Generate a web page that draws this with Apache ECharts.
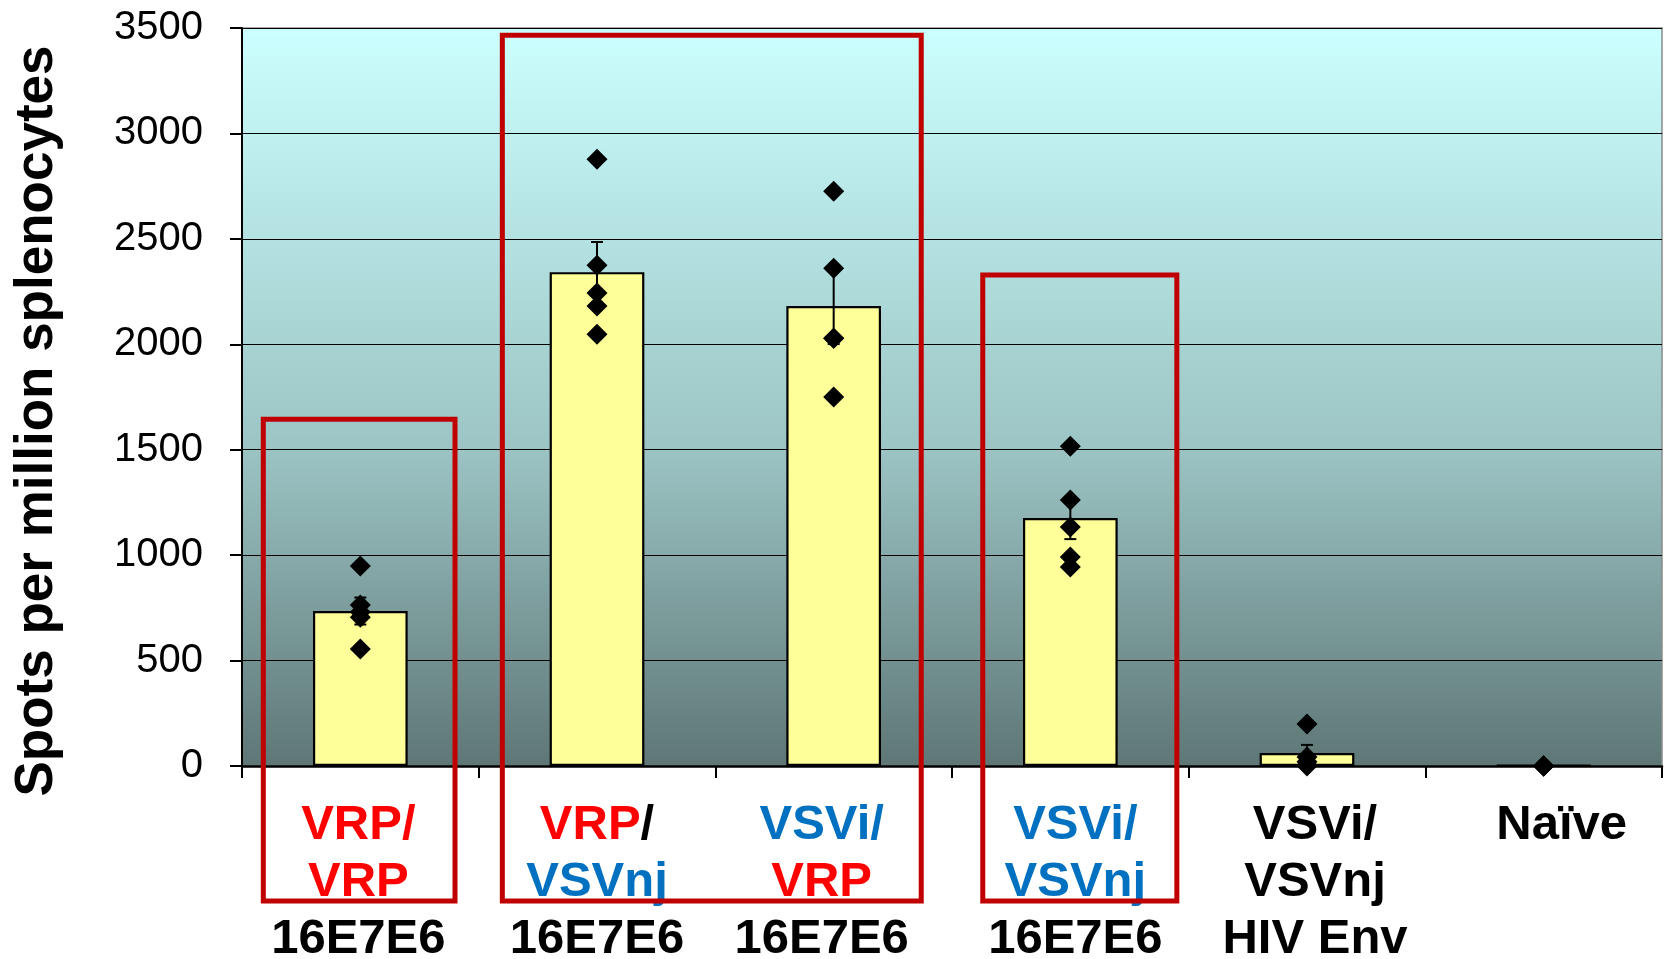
<!DOCTYPE html>
<html>
<head>
<meta charset="utf-8">
<script src="https://cdn.jsdelivr.net/npm/echarts@6/dist/echarts.min.js"></script>
<style>
html,body{margin:0;padding:0;background:#fff;}
#chart{width:1666px;height:959px;}
</style>
</head>
<body>
<div id="chart"></div>
<script>
// ---- data ----
const categories = ['VRP/VRP 16E7E6', 'VRP/VSVnj 16E7E6', 'VSVi/VRP 16E7E6', 'VSVi/VSVnj 16E7E6', 'VSVi/VSVnj HIV Env', 'Naïve'];
const tickLabelLines = [
  [[['r', 'VRP/']], [['r', 'VRP']], [['k', '16E7E6']]],
  [[['r', 'VRP'], ['k', '/']], [['b', 'VSVnj']], [['k', '16E7E6']]],
  [[['b', 'VSVi/']], [['r', 'VRP']], [['k', '16E7E6']]],
  [[['b', 'VSVi/']], [['b', 'VSVnj']], [['k', '16E7E6']]],
  [[['k', 'VSVi/']], [['k', 'VSVnj']], [['k', 'HIV Env']]],
  [[['k', 'Naïve']]]
];
const yTicks = [0, 500, 1000, 1500, 2000, 2500, 3000, 3500];
const means = [735, 2342, 2181, 1176, 62, 3];
const sems = [64, 143, 180, 100, 38, 0];
const pointsVRPVRP = [948, 763, 730, 706, 555];
const pointsVRPVSVnj = [2878, 2375, 2243, 2181, 2048];
const pointsVSViVRP = [2726, 2361, 2029, 2029, 1750];
const pointsVSViVSVnj = [1517, 1261, 1133, 991, 944];
const pointsHIVEnv = [199, 43, 20, 5, 0];
const pointsNaive = [0, 0, 0, 0, 0];
const pointGroups = [pointsVRPVRP, pointsVRPVSVnj, pointsVSViVRP, pointsVSViVSVnj, pointsHIVEnv, pointsNaive];

// annotation boxes: [startCategory, topValue, startOffset, endCategory, endOffset]
const boxes = [
  [0, 1645, -0.41, 0, 0.40],
  [1, 3466, -0.40, 2, 0.37],
  [3, 2328, -0.37, 3, 0.45]
];
const boxBottomValue = -640;

// ---- layout/style (not data) ----
// horizontal nudge of each tick label, in px (positive = right)
const labelNudge = [-2, 0, -12, 5, 8, 18];

// ---- build ----
const scatterData = [];
pointGroups.forEach((g, i) => g.forEach(v => scatterData.push([i, v])));
const errData = means.map((m, i) => [i, m, sems[i]]);

function buildLabel(idx) {
  const n = labelNudge[idx] || 0;
  const w = Math.abs(n) * 2;
  return tickLabelLines[idx].map(line => {
    const body = line.map(([s, t]) => '{' + s + '|' + t + '}').join('');
    if (!n) return body;
    const sp = '{sp' + w + '|}';
    return n > 0 ? sp + body : body + sp;
  }).join('\n');
}

const FONT = "'Liberation Sans', Arial, sans-serif";
const richBase = {fontSize: 49, fontWeight: 'bold', lineHeight: 57, fontFamily: FONT};
const rich = {
  r: Object.assign({color: '#FF0000'}, richBase),
  b: Object.assign({color: '#0070C0'}, richBase),
  k: Object.assign({color: '#000000'}, richBase)
};
labelNudge.forEach(n => { if (n) { const w = Math.abs(n) * 2; rich['sp' + w] = {width: w, lineHeight: 57}; } });

const chart = echarts.init(document.getElementById('chart'), null, {renderer: 'canvas'});
chart.setOption({
  animation: false,
  grid: {
    left: 242, top: 28, right: 4, bottom: 193,
    containLabel: false, outerBoundsMode: 'none',
    show: true, borderColor: '#8a8a8a', borderWidth: 1.5,
    backgroundColor: new echarts.graphic.LinearGradient(0, 0, 0, 1, [
      {offset: 0, color: '#CCFFFF'},
      {offset: 0.57, color: '#9CC4C4'},
      {offset: 1, color: '#5E7676'}
    ])
  },
  xAxis: {
    type: 'category',
    data: categories,
    axisLine: {show: true, lineStyle: {color: '#000', width: 2.5}},
    axisTick: {show: true, length: 12, interval: 0, lineStyle: {color: '#000', width: 2}},
    splitLine: {show: false},
    axisLabel: {
      interval: 0,
      margin: 31,
      formatter: (v, idx) => buildLabel(idx),
      fontFamily: FONT,
      rich: rich
    }
  },
  yAxis: {
    type: 'value',
    min: 0, max: 3500, interval: 500,
    name: 'Spots per million splenocytes',
    nameLocation: 'middle',
    nameRotate: 90,
    nameGap: 178,
    nameTextStyle: {fontFamily: FONT, fontSize: 53, fontWeight: 'bold', color: '#000', padding: [0, 48, 0, 0]},
    axisLine: {show: true, lineStyle: {color: '#000', width: 2}},
    axisTick: {show: true, length: 12, inside: false, lineStyle: {color: '#000', width: 2}},
    splitLine: {show: true, lineStyle: {color: '#000', width: 1}},
    axisLabel: {
      margin: 39,
      fontFamily: FONT, fontSize: 40, color: '#000',
      formatter: v => yTicks.includes(v) ? String(v) : ''
    }
  },
  series: [
    {
      type: 'bar',
      data: means,
      barWidth: '40%',
      itemStyle: {color: '#FFFF99', borderColor: '#000', borderWidth: 2.2},
      z: 2
    },
    {
      type: 'custom',
      data: errData,
      encode: {x: 0, y: 1},
      z: 3,
      renderItem: (params, api) => {
        const x = api.value(0), m = api.value(1), e = api.value(2);
        if (!e) return null;
        const top = api.coord([x, m + e]);
        const bot = api.coord([x, m - e]);
        const cw = 6;
        const st = {stroke: '#000', lineWidth: 2};
        return {type: 'group', children: [
          {type: 'line', shape: {x1: top[0], y1: top[1], x2: bot[0], y2: bot[1]}, style: st},
          {type: 'line', shape: {x1: top[0] - cw, y1: top[1], x2: top[0] + cw, y2: top[1]}, style: st},
          {type: 'line', shape: {x1: bot[0] - cw, y1: bot[1], x2: bot[0] + cw, y2: bot[1]}, style: st}
        ]};
      }
    },
    {
      type: 'scatter',
      data: scatterData,
      symbol: 'diamond',
      symbolSize: 21,
      itemStyle: {color: '#000', opacity: 1},
      z: 4
    },
    {
      type: 'custom',
      data: boxes,
      encode: {x: 0, y: 1},
      clip: false,
      z: 10,
      renderItem: (params, api) => {
        const c0 = api.value(0), topV = api.value(1), o0 = api.value(2), c1 = api.value(3), o1 = api.value(4);
        const band = api.size([1, 0])[0];
        const xl = api.coord([c0, 0])[0] + o0 * band;
        const xr = api.coord([c1, 0])[0] + o1 * band;
        const yt = api.coord([c0, topV])[1];
        const yb = api.coord([c0, boxBottomValue])[1];
        return {
          type: 'rect',
          shape: {x: xl, y: yt, width: xr - xl, height: yb - yt},
          style: {fill: null, stroke: '#C00000', lineWidth: 5, lineJoin: 'miter'}
        };
      }
    }
  ]
});
</script>
</body>
</html>
